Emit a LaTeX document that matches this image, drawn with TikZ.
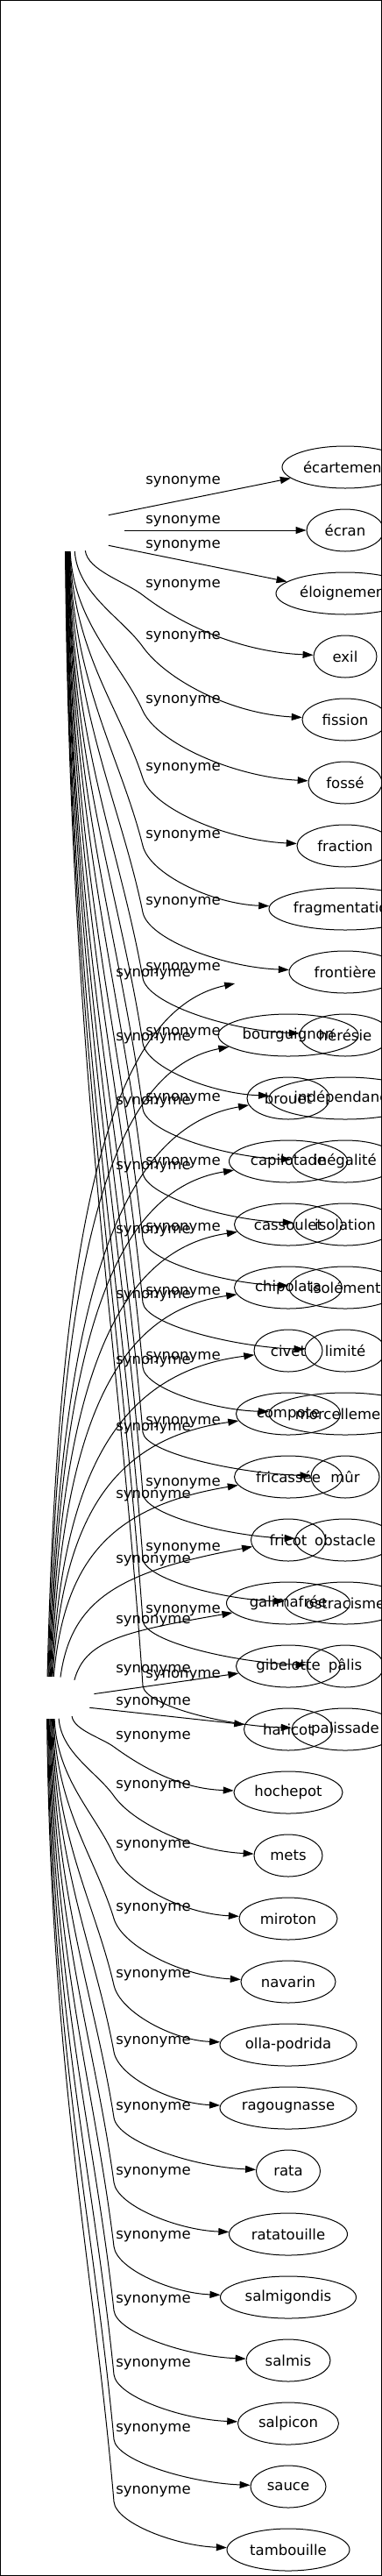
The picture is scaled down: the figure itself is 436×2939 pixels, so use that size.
\documentclass[tikz,border=0pt]{standalone}
\usepackage{fontspec}
\setmainfont{DejaVu Sans}
\usetikzlibrary{shapes.geometric,arrows.meta}
\newcommand{\lblfont}{\fontsize{16.5pt}{19.8pt}\selectfont}
% knee edge: #1 start anchor, #2 Sx, #3 Sy, #4 Kx, #5 Ky, #6 target, #7 target left x, #8 target y
\newcommand{\kedge}[8]{%
  \pgfmathsetmacro{\qdX}{#4-#2}%
  \pgfmathsetmacro{\qdY}{#5-#3}%
  \pgfmathsetmacro{\qH}{#8-#5}%
  \pgfmathsetmacro{\qAx}{#2+0.05*\qdX}%
  \pgfmathsetmacro{\qAy}{#3+0.45*\qdY}%
  \pgfmathsetmacro{\qBx}{#4-0.3*\qdX}%
  \pgfmathsetmacro{\qBy}{#5-0.3*\qdY}%
  \pgfmathsetmacro{\qCx}{#4+0.45*\qH*\qdX/\qdY}%
  \pgfmathsetmacro{\qCy}{#5+0.45*\qH}%
  \pgfmathsetmacro{\qDx}{#7-0.45*(#7-#4)}%
  \pgfmathsetmacro{\qDy}{#8-0.08*\qH}%
  \draw[conn] (#1) .. controls (\qAx,\qAy) and (\qBx,\qBy) .. (#4,#5) .. controls (\qCx,\qCy) and (\qDx,\qDy) .. (#6);%
}
% upward arc: #1 start anchor, #2 Sx, #3 Sy, #4 target, #5 target left x, #6 arrow y, #7 label y
\newcommand{\uedge}[7]{%
  \pgfmathsetmacro{\qH}{#3-#6}%
  \pgfmathsetmacro{\qAx}{#2+12}%
  \pgfmathsetmacro{\qAy}{#3-0.6*\qH}%
  \pgfmathsetmacro{\qBx}{#2+0.3*(#5-#2)}%
  \pgfmathsetmacro{\qBy}{max(#6+0.05*\qH,#7+12)}%
  \draw[conn] (#1) .. controls (\qAx,\qAy) and (\qBx,\qBy) .. (#4);%
}
\begin{document}
\begin{tikzpicture}[x=1pt,y=-1pt,
  tgt/.style={ellipse, draw, line width=1pt, inner xsep=0pt, inner ysep=0pt, minimum height=48pt, font=\lblfont},
  ghost/.style={ellipse, inner sep=0pt, minimum height=48pt},
  lab/.style={inner sep=0pt, font=\lblfont},
  conn/.style={line width=1pt, -{Triangle[length=12pt,width=8pt]}},
  frame/.style={line width=1.3pt}]
\useasboundingbox (0,0) rectangle (436,2939);
\begin{scope}
\clip (0,0) rectangle (436,2939);
% sources (invisible)
\node[ghost, minimum width=122pt] (s1) at (81,605) {};
\node[ghost, minimum width=102pt] (s2) at (57,1937) {};
% graph 1 targets
\node[tgt, minimum width=144pt] (g1t1) at (394,533) {écartement};
\node[tgt, minimum width=88pt] (g1t2) at (394,605) {écran};
\node[tgt, minimum width=158pt] (g1t3) at (394,677) {éloignement};
\node[tgt, minimum width=72pt] (g1t4) at (394,749) {exil};
\node[tgt, minimum width=98pt] (g1t5) at (394,821) {fission};
\node[tgt, minimum width=84pt] (g1t6) at (394,893) {fossé};
\node[tgt, minimum width=110pt] (g1t7) at (394,965) {fraction};
\node[tgt, minimum width=174pt] (g1t8) at (394,1037) {fragmentation};
\node[tgt, minimum width=128pt] (g1t9) at (394,1109) {frontière};
\node[tgt, minimum width=104pt] (g1t10) at (394,1181) {hérésie};
\node[tgt, minimum width=174pt] (g1t11) at (394,1253) {indépendance};
\node[tgt, minimum width=122pt] (g1t12) at (394,1325) {inégalité};
\node[tgt, minimum width=118pt] (g1t13) at (394,1397) {isolation};
\node[tgt, minimum width=128pt] (g1t14) at (394,1469) {isolément};
\node[tgt, minimum width=92pt] (g1t15) at (394,1541) {limité};
\node[tgt, minimum width=174pt] (g1t16) at (394,1613) {morcellement};
\node[tgt, minimum width=78pt] (g1t17) at (394,1685) {mûr};
\node[tgt, minimum width=114pt] (g1t18) at (394,1757) {obstacle};
\node[tgt, minimum width=138pt] (g1t19) at (394,1829) {ostracisme};
\node[tgt, minimum width=88pt] (g1t20) at (394,1901) {pâlis};
\node[tgt, minimum width=122pt] (g1t21) at (394,1973) {palissade};
% graph 2 targets
\node[ghost, minimum width=144pt] (g2t0) at (329,1109) {};
\node[tgt, minimum width=160pt] (g2t1) at (329,1181) {bourguignon};
\node[tgt, minimum width=94pt] (g2t2) at (329,1253) {brouet};
\node[tgt, minimum width=135pt] (g2t3) at (329,1325) {capilotade};
\node[tgt, minimum width=123pt] (g2t4) at (329,1397) {cassoulet};
\node[tgt, minimum width=123pt] (g2t5) at (329,1469) {chipolata};
\node[tgt, minimum width=78pt] (g2t6) at (329,1541) {civet};
\node[tgt, minimum width=119pt] (g2t7) at (329,1613) {compote};
\node[tgt, minimum width=123pt] (g2t8) at (329,1685) {fricassée};
\node[tgt, minimum width=85pt] (g2t9) at (329,1757) {fricot};
\node[tgt, minimum width=141pt] (g2t10) at (329,1829) {galimafrée};
\node[tgt, minimum width=119pt] (g2t11) at (329,1901) {gibelotte};
\node[tgt, minimum width=101pt] (g2t12) at (329,1973) {haricot};
\node[tgt, minimum width=124pt] (g2t13) at (329,2045) {hochepot};
\node[tgt, minimum width=78pt] (g2t14) at (329,2117) {mets};
\node[tgt, minimum width=112pt] (g2t15) at (329,2189) {miroton};
\node[tgt, minimum width=108pt] (g2t16) at (329,2261) {navarin};
\node[tgt, minimum width=156pt] (g2t17) at (329,2333) {olla-podrida};
\node[tgt, minimum width=156pt] (g2t18) at (329,2405) {ragougnasse};
\node[tgt, minimum width=73pt] (g2t19) at (329,2477) {rata};
\node[tgt, minimum width=135pt] (g2t20) at (329,2549) {ratatouille};
\node[tgt, minimum width=155pt] (g2t21) at (329,2621) {salmigondis};
\node[tgt, minimum width=96pt] (g2t22) at (329,2693) {salmis};
\node[tgt, minimum width=115pt] (g2t23) at (329,2765) {salpicon};
\node[tgt, minimum width=86pt] (g2t24) at (329,2837) {sauce};
\node[tgt, minimum width=140pt] (g2t25) at (329,2909) {tambouille};
% graph 1 labels
\foreach \n/\yy in {1/550,2/595,3/623,4/668,5/727,6/800,7/877,8/954,9/1030,10/1105,11/1179,12/1254,13/1327,14/1402,15/1475,16/1549,17/1623,18/1693,19/1767,20/1838,21/1912}
  \node[lab] (g1l\n) at (209,\yy) {synonyme};
% graph 2 labels
\foreach \n/\yy in {0/1112,1/1185,2/1258,3/1332,4/1405,5/1479,6/1554,7/1630,8/1707,9/1781,10/1850,11/1906,12/1943,13/1982,14/2038,15/2106,16/2178,17/2254,18/2330,19/2405,20/2479,21/2552,22/2625,23/2698,24/2772,25/2843}
  \node[lab] (g2l\n) at (175,\yy) {synonyme};
% graph 1 edges
\draw[conn] (s1.22) -- (g1t1);
\draw[conn] (s1.0) -- (g1t2);
\draw[conn] (s1.-22) -- (g1t3);
\kedge{s1.-55}{97}{628}{163}{679}{g1t4}{358}{749}
\kedge{s1.-80}{85}{629}{163}{738}{g1t5}{345}{821}
\kedge{s1.-92}{80}{629}{163}{811}{g1t6}{352}{893}
\kedge{s1.-93}{80}{629}{163}{888}{g1t7}{339}{965}
\kedge{s1.-94}{79}{629}{163}{965}{g1t8}{307}{1037}
\kedge{s1.-95}{79}{629}{163}{1041}{g1t9}{330}{1109}
\kedge{s1.-96}{78}{629}{163}{1116}{g1t10}{342}{1181}
\kedge{s1.-97}{78}{629}{163}{1190}{g1t11}{307}{1253}
\kedge{s1.-97}{78}{629}{163}{1265}{g1t12}{333}{1325}
\kedge{s1.-98}{78}{629}{163}{1338}{g1t13}{335}{1397}
\kedge{s1.-99}{77}{629}{163}{1413}{g1t14}{330}{1469}
\kedge{s1.-100}{77}{629}{163}{1486}{g1t15}{348}{1541}
\kedge{s1.-101}{76}{629}{163}{1560}{g1t16}{307}{1613}
\kedge{s1.-101}{76}{629}{163}{1634}{g1t17}{355}{1685}
\kedge{s1.-102}{76}{629}{163}{1704}{g1t18}{337}{1757}
\kedge{s1.-103}{75}{629}{163}{1778}{g1t19}{325}{1829}
\kedge{s1.-104}{75}{629}{163}{1849}{g1t20}{350}{1901}
\kedge{s1.-105}{75}{629}{163}{1923}{g1t21}{333}{1973}
% graph 2 edges
\uedge{s2.97}{54}{1913}{g2t0}{257}{1115}{1112}
\uedge{s2.95}{55}{1913}{g2t1}{250}{1187}{1185}
\uedge{s2.93}{56}{1913}{g2t2}{282}{1256}{1258}
\uedge{s2.91}{57}{1913}{g2t3}{262}{1330}{1332}
\uedge{s2.89}{57}{1913}{g2t4}{268}{1402}{1405}
\uedge{s2.87}{58}{1913}{g2t5}{268}{1475}{1479}
\uedge{s2.85}{59}{1913}{g2t6}{290}{1545}{1554}
\uedge{s2.83}{60}{1913}{g2t7}{270}{1623}{1630}
\uedge{s2.80}{61}{1913}{g2t8}{268}{1697}{1707}
\uedge{s2.63}{69}{1914}{g2t9}{287}{1767}{1781}
\uedge{s2.36}{85}{1917}{g2t10}{259}{1843}{1850}
\draw[conn] (s2.5) -- (g2t11);
\draw[conn] (s2.-14) -- (g2t12);
\kedge{s2.-40}{82}{1958}{130}{1993}{g2t13}{267}{2045}
\kedge{s2.-67}{67}{1960}{130}{2049}{g2t14}{290}{2117}
\kedge{s2.-78}{62}{1961}{130}{2117}{g2t15}{273}{2189}
\kedge{s2.-80}{61}{1961}{130}{2189}{g2t16}{275}{2261}
\kedge{s2.-82}{60}{1961}{130}{2265}{g2t17}{251}{2333}
\kedge{s2.-84}{60}{1961}{130}{2341}{g2t18}{251}{2405}
\kedge{s2.-86}{59}{1961}{130}{2416}{g2t19}{293}{2477}
\kedge{s2.-88}{58}{1961}{130}{2490}{g2t20}{262}{2549}
\kedge{s2.-90}{57}{1961}{130}{2563}{g2t21}{252}{2621}
\kedge{s2.-92}{56}{1961}{130}{2636}{g2t22}{282}{2693}
\kedge{s2.-94}{55}{1961}{130}{2709}{g2t23}{272}{2765}
\kedge{s2.-96}{54}{1961}{130}{2783}{g2t24}{286}{2837}
\kedge{s2.-98}{54}{1961}{130}{2854}{g2t25}{259}{2909}
\end{scope}
\draw[frame] (0.65,0.65) rectangle (435.35,2938.35);
\end{tikzpicture}
\end{document}
